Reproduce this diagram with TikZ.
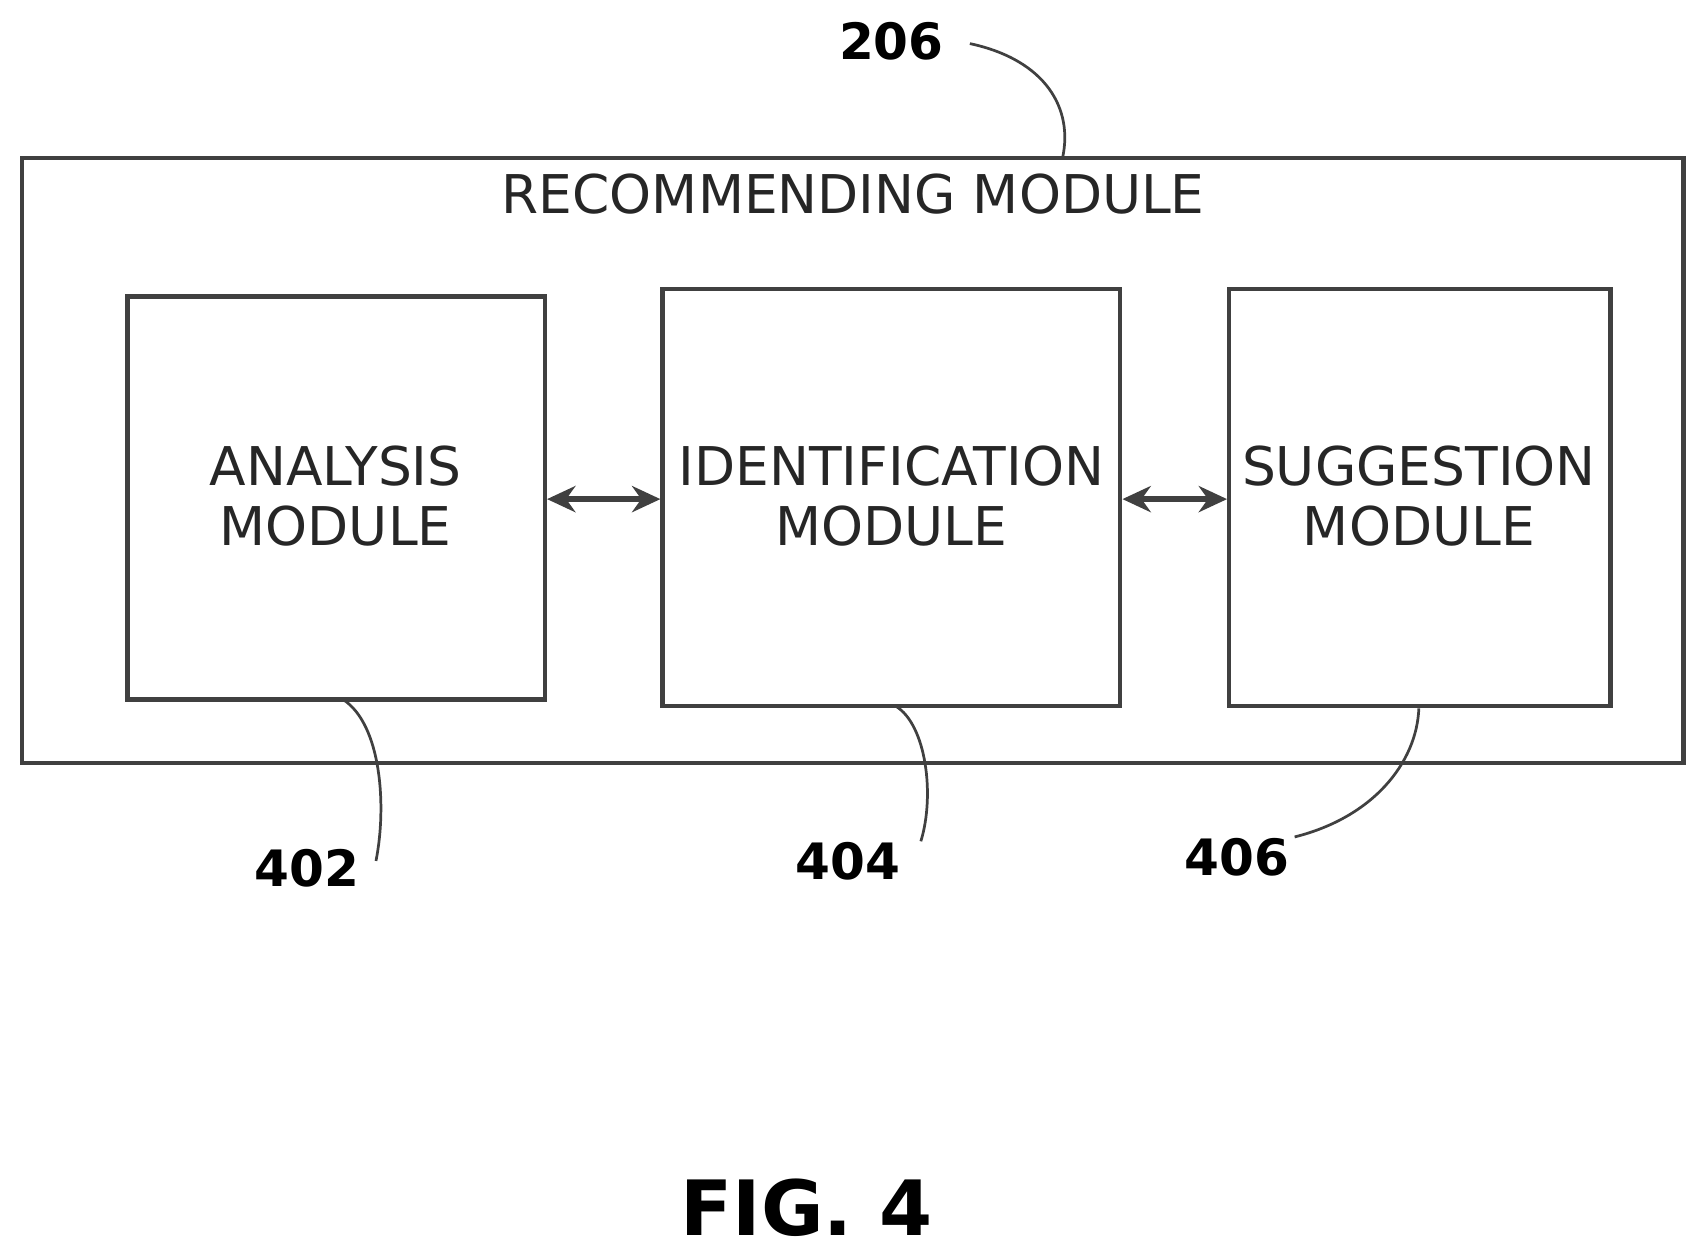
\documentclass[tikz,border=0pt]{standalone}
\usepackage{fontspec}
\setmainfont{DejaVu Sans}
\usetikzlibrary{arrows.meta}
\begin{document}
\begin{tikzpicture}[x=1pt,y=-1pt,
  box/.style={draw=black!75,line width=4pt},
  mtext/.style={font=\fontsize{49}{55}\selectfont,align=center,text=black!85},
  num/.style={font=\fontsize{46}{50}\selectfont\bfseries},
  lead/.style={draw=black!75,line width=2.5pt},
  dar/.style={draw=black!75,line width=5pt,{Stealth[length=26pt,width=24pt]}-{Stealth[length=26pt,width=24pt]}}]
\useasboundingbox (0,0) rectangle (1560,1152);
\draw[box] (20,145) rectangle (1545,700);
\node[mtext] (t) at (783,178) {RECOMMENDING MODULE};
\node[box,minimum width=383pt,minimum height=370pt] (a) at (308.5,457) {};
\node[mtext] at (308,455) {ANALYSIS\\MODULE};
\node[box,minimum width=420pt,minimum height=383pt] (b) at (818,456.5) {};
\node[mtext] at (818,455) {IDENTIFICATION\\MODULE};
\node[box,minimum width=350pt,minimum height=383pt] (c) at (1303,456.5) {};
\node[mtext] at (1302,455) {SUGGESTION\\MODULE};
\draw[dar] (a.east|-0,458) -- (b.west|-0,458);
\draw[dar] (b.east|-0,458) -- (c.west|-0,458);
\node[num] (n206) at (818,38) {206};
\node[num] (n402) at (282,797) {402};
\node[num] (n404) at (778,790) {404};
\node[num] (n406) at (1135,787) {406};
\coordinate (e206) at (975,145);
\coordinate (e402) at (315,642);
\coordinate (e404) at (822,648);
\coordinate (e406) at (1302,650);
\draw[lead] (890,40) .. controls (960,55) and (985,100) .. (e206);
\draw[lead] (345,790) .. controls (355,740) and (350,665) .. (e402);
\draw[lead] (845,772) .. controls (858,730) and (850,665) .. (e404);
\draw[lead] (1188,768) .. controls (1260,750) and (1300,700) .. (e406);
\node[font=\fontsize{70}{76}\selectfont\bfseries] (fig) at (740,1108) {FIG. 4};
\end{tikzpicture}
\end{document}
